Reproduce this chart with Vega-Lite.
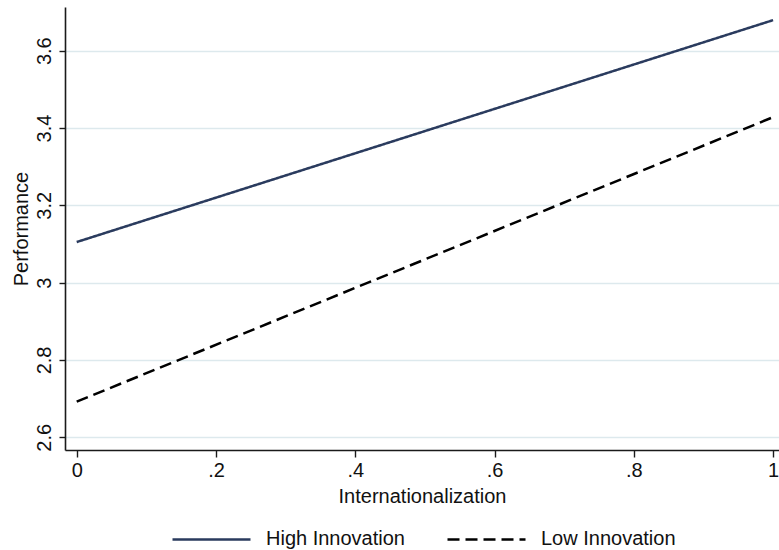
{
  "$schema": "https://vega.github.io/schema/vega-lite/v6.json",
  "width": 714,
  "height": 443,
  "autosize": {"type": "none"},
  "padding": {"left": 65, "top": 7, "right": 0, "bottom": 100},
  "background": "white",
  "config": {
    "view": {"stroke": null},
    "font": "Liberation Sans",
    "axis": {
      "domainColor": "#1a1a1a",
      "domainWidth": 1.6,
      "tickColor": "#1a1a1a",
      "tickWidth": 1.4,
      "labelFont": "Liberation Sans",
      "labelFontSize": 20,
      "labelColor": "#111111",
      "titleFont": "Liberation Sans",
      "titleFontSize": 20,
      "titleFontWeight": "normal",
      "titleColor": "#111111"
    },
    "legend": {
      "labelFont": "Liberation Sans",
      "labelFontSize": 20,
      "labelColor": "#111111"
    }
  },
  "data": {
    "values": [
      {"internationalization": 0, "performance": 3.105, "group": "High Innovation"},
      {"internationalization": 1, "performance": 3.679, "group": "High Innovation"},
      {"internationalization": 0, "performance": 2.692, "group": "Low Innovation"},
      {"internationalization": 1, "performance": 3.428, "group": "Low Innovation"}
    ]
  },
  "mark": {"type": "line", "strokeWidth": 2.5},
  "encoding": {
    "x": {
      "field": "internationalization",
      "type": "quantitative",
      "scale": {"domain": [-0.0168, 1.0085], "nice": false, "zero": false},
      "axis": {
        "title": "Internationalization",
        "values": [0, 0.2, 0.4, 0.6, 0.8, 1],
        "labelExpr": "datum.value == 0 ? '0' : datum.value == 1 ? '1' : replace(format(datum.value, '.1f'), '0.', '.')",
        "grid": false,
        "tickSize": 7,
        "labelPadding": 3,
        "titleY": 52,
        "titleBaseline": "alphabetic",
        "labelFlush": false
      }
    },
    "y": {
      "field": "performance",
      "type": "quantitative",
      "scale": {"domain": [2.567, 3.713], "nice": false, "zero": false},
      "axis": {
        "title": "Performance",
        "values": [2.6, 2.8, 3.0, 3.2, 3.4, 3.6],
        "labelExpr": "format(datum.value, '~g')",
        "labelAngle": -90,
        "labelAlign": "center",
        "labelBaseline": "alphabetic",
        "labelPadding": 9,
        "tickSize": 6,
        "grid": true,
        "gridColor": "#dde9ed",
        "gridWidth": 1.6,
        "titleAngle": -90,
        "titleX": -38,
        "titleY": 221.5,
        "titleAlign": "center",
        "titleBaseline": "alphabetic",
        "labelFlush": false
      }
    },
    "color": {
      "field": "group",
      "type": "nominal",
      "scale": {"domain": ["High Innovation", "Low Innovation"], "range": ["#2a3b5e", "#000000"]},
      "legend": {
        "title": null,
        "orient": "none",
        "direction": "horizontal",
        "legendX": 106,
        "legendY": 491.7,
        "symbolType": "stroke",
        "symbolSize": 6084,
        "symbolStrokeWidth": 2.5,
        "labelOffset": 14,
        "columnPadding": 37,
        "padding": 0
      }
    },
    "strokeDash": {
      "field": "group",
      "type": "nominal",
      "scale": {"domain": ["High Innovation", "Low Innovation"], "range": [[1, 0], [12, 6]]},
      "legend": {
        "title": null,
        "orient": "none",
        "direction": "horizontal",
        "legendX": 106,
        "legendY": 491.7,
        "symbolType": "stroke",
        "symbolSize": 6084,
        "symbolStrokeWidth": 2.5,
        "labelOffset": 14,
        "columnPadding": 37,
        "padding": 0
      }
    }
  }
}
